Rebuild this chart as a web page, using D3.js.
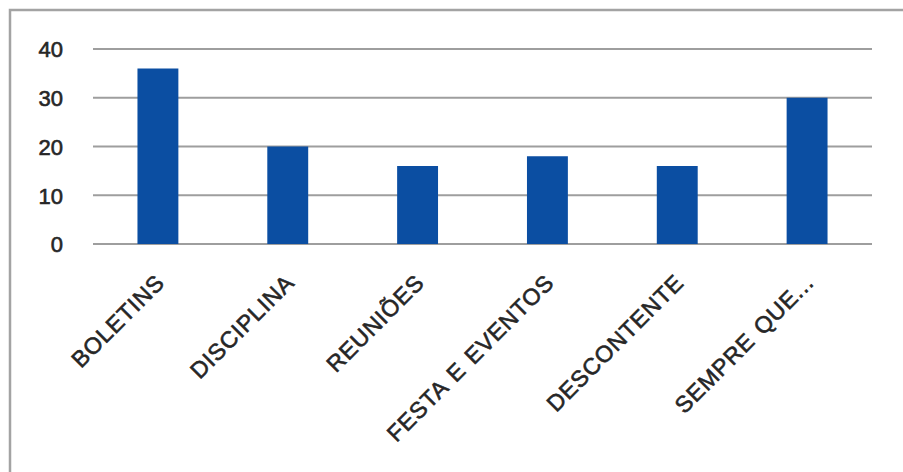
<!DOCTYPE html>
<html>
<head>
<meta charset="utf-8">
<script src="https://cdn.jsdelivr.net/npm/d3@7/dist/d3.min.js"></script>
<style>
  html, body { margin: 0; padding: 0; background: #fff; }
  svg { display: block; }
</style>
</head>
<body>
<svg id="chart" width="903" height="472"></svg>
<script>
// Categories and their counts
const categories = ["BOLETINS", "DISCIPLINA", "REUNIÕES", "FESTA E EVENTOS", "DESCONTENTE", "SEMPRE QUE..."];
const values = [36, 20, 16, 18, 16, 30];
const yTicks = [0, 10, 20, 30, 40];

const W = 903, H = 472;
const margin = { left: 93, right: 31, top: 49, bottom: 228 };
const FONT = "'Liberation Sans', Arial, sans-serif";
const TEXT_COLOR = "#262626";

const svg = d3.select("#chart");

// Outer frame (right and bottom edges fall outside the view)
svg.append("rect")
  .attr("x", 10).attr("y", 10)
  .attr("width", W).attr("height", H)
  .attr("fill", "#fff")
  .attr("stroke", "#a3a3a3")
  .attr("stroke-width", 2.5);

const x = d3.scaleBand()
  .domain(categories)
  .range([margin.left, W - margin.right])
  .paddingInner(0.685)
  .paddingOuter(0.3425);

const y = d3.scaleLinear()
  .domain([0, 40])
  .range([H - margin.bottom, margin.top]);

// Horizontal gridlines
svg.append("g")
  .selectAll("line")
  .data(yTicks)
  .join("line")
  .attr("x1", margin.left)
  .attr("x2", W - margin.right)
  .attr("y1", d => y(d))
  .attr("y2", d => y(d))
  .attr("stroke", "#9e9e9e")
  .attr("stroke-width", 2);

// Y axis labels
const yAxis = d3.axisLeft(y).tickValues(yTicks).tickSize(0).tickPadding(0);
const yg = svg.append("g")
  .attr("transform", `translate(${margin.left - 30},0)`)
  .call(yAxis);
yg.select(".domain").remove();
yg.selectAll("text")
  .attr("font-family", FONT)
  .attr("font-size", 22)
  .attr("fill", TEXT_COLOR)
  .attr("stroke", TEXT_COLOR)
  .attr("stroke-width", 0.6)
  .attr("dy", "0.36em");

// Bars
svg.append("g")
  .selectAll("rect")
  .data(values)
  .join("rect")
  .attr("x", (d, i) => x(categories[i]))
  .attr("width", x.bandwidth())
  .attr("y", d => y(d))
  .attr("height", d => y(0) - y(d))
  .attr("fill", "#0b4ea2");

// Rotated category labels
const xAxis = d3.axisBottom(x).tickSize(0).tickPadding(0);
const xg = svg.append("g")
  .attr("transform", `translate(0,${y(0)})`)
  .call(xAxis);
xg.select(".domain").remove();
xg.selectAll(".tick text")
  .attr("font-family", FONT)
  .attr("font-size", 23)
  .attr("fill", TEXT_COLOR)
  .attr("stroke", TEXT_COLOR)
  .attr("stroke-width", 0.6)
  .attr("letter-spacing", "0.8px")
  .attr("word-spacing", "2px")
  .attr("text-anchor", "end")
  .attr("dy", 0)
  .attr("y", 0)
  .attr("transform", "translate(8,40) rotate(-45)");
</script>
</body>
</html>
